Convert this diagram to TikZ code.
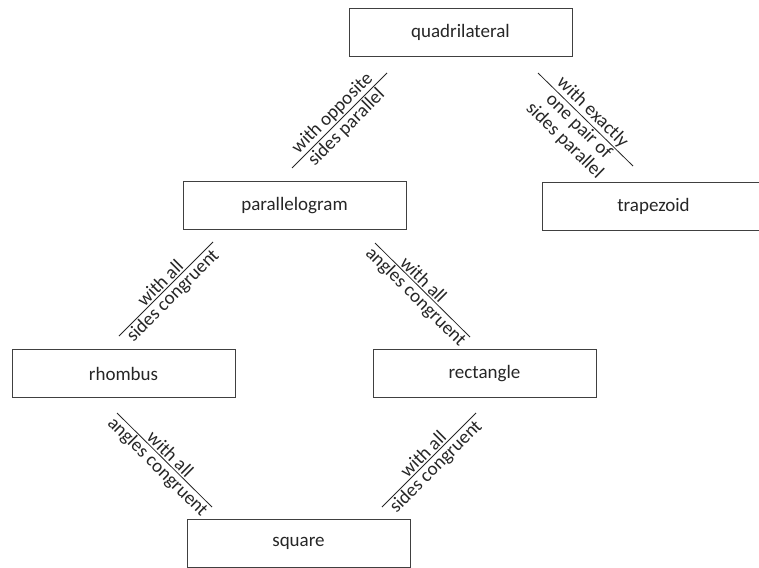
\documentclass[tikz,border=0pt]{standalone}
\usepackage{fontspec}
\setmainfont{Carlito}

\begin{document}
\begin{tikzpicture}[x=1pt, y=-1pt]
\tikzstyle{every node} = [font = \fontsize{19}{20}\selectfont]
\tikzstyle{kind} = [draw, black!75, text=black!85, line width=.9pt, minimum width=223, minimum height=48, inner sep=0]
\tikzstyle{rule} = [black!85, line width=.8pt]
\tikzstyle{tag} = [text=black!85, inner sep=1.5pt, align=center]
\useasboundingbox (0,0) rectangle (759,567);

\node [kind] (quad) at (460.5,32.5) {quadrilateral};
\node [kind] (para) at (294.5,205.5) {parallelogram};
\node [kind] (trap) at (653.5,206.5) {trapezoid};
\node [kind] (rhom) at (123.5,373.5) {rhombus};
\node [kind] (rect) at (484.5,373.5) {rectangle};
\node [kind] (squa) at (298.5,543) {square};

% ends of the label rules
\coordinate (qp1) at (292,168); \coordinate (qp2) at (387,73);
\coordinate (qt1) at (538,73); \coordinate (qt2) at (633,166);
\coordinate (pr1) at (119,336); \coordinate (pr2) at (213,242);
\coordinate (pc1) at (375,243); \coordinate (pc2) at (470,337);
\coordinate (rs1) at (117,413); \coordinate (rs2) at (212,507);
\coordinate (cs1) at (382,507); \coordinate (cs2) at (476,413);

\draw [rule] (qp1) -- (qp2) node[tag, midway, sloped, above] {with opposite} node[tag, midway, sloped, below] {sides parallel}; %quad to para
\draw [rule] (qt1) -- (qt2) node[tag, midway, sloped, above] {with exactly} node[tag, midway, sloped, below] {one pair of\\sides parallel}; %quad to trap
\draw [rule] (pr1) -- (pr2) node[tag, midway, sloped, above] {with all} node[tag, midway, sloped, below] {sides congruent}; %para to rhom
\draw [rule] (pc1) -- (pc2) node[tag, pos=0.45, sloped, above] {with all} node[tag, midway, sloped, below] {angles congruent}; %para to rect
\draw [rule] (rs1) -- (rs2) node[tag, midway, sloped, above] {with all} node[tag, midway, sloped, below] {angles congruent}; %rhom to squa
\draw [rule] (cs1) -- (cs2) node[tag, midway, sloped, above] {with all} node[tag, midway, sloped, below] {sides congruent}; %rect to squa
\end{tikzpicture}
\end{document}
